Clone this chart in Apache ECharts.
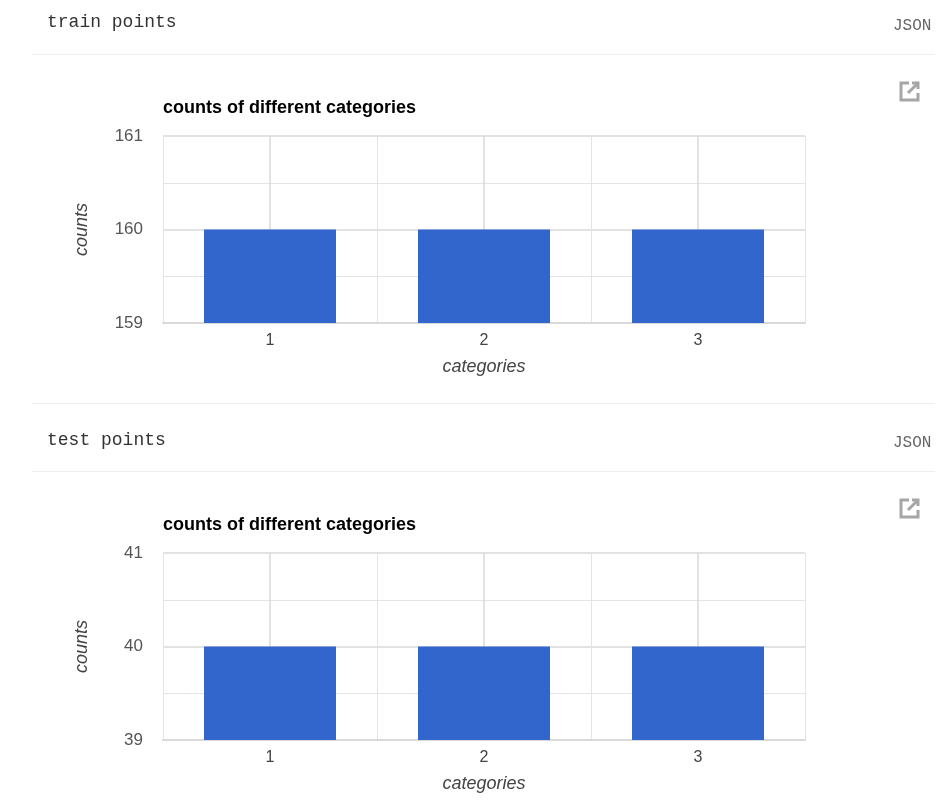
<!DOCTYPE html>
<html>
<head>
<meta charset="utf-8">
<title>train and test points</title>
<script src="https://cdn.jsdelivr.net/npm/echarts@6/dist/echarts.min.js"></script>
<style>
  html, body { margin: 0; padding: 0; background: #fff; }
  #chart { width: 950px; height: 800px; }
</style>
</head>
<body>
<div id="chart"></div>
<script>
var categories = ["1", "2", "3"];
var trainCounts = [160, 160, 160];
var testCounts = [40, 40, 40];
var trainRange = [159, 161];
var testRange = [39, 41];

var chartTitle = "counts of different categories";
var sansFont = '"Liberation Sans", Arial, sans-serif';
var monoFont = '"Liberation Mono", monospace';

var chart = echarts.init(document.getElementById("chart"));

// 两个图共用的坐标轴配置
function makeXAxis(gridIndex, height) {
  return {
    type: "category",
    gridIndex: gridIndex,
    data: categories,
    name: "categories",
    nameLocation: "middle",
    nameGap: 35,
    nameTextStyle: { fontFamily: sansFont, fontStyle: "italic", fontSize: 18, color: "#444" },
    axisLine: { show: true, lineStyle: { color: "#d9d9d9", width: 2 } },
    // 刻度线向上拉满，当作类目中心的深色竖线
    axisTick: { show: true, alignWithLabel: true, inside: true, length: height, lineStyle: { color: "#d9d9d9", width: 1.5 } },
    axisLabel: { fontFamily: sansFont, fontSize: 16, color: "#444", margin: 10 },
    splitLine: { show: true, lineStyle: { color: "#e4e4e4", width: 1 } }
  };
}

function makeYAxis(gridIndex, range) {
  return {
    type: "value",
    gridIndex: gridIndex,
    min: range[0],
    max: range[1],
    interval: 1,
    name: "counts",
    nameLocation: "middle",
    nameGap: 72,
    nameTextStyle: { fontFamily: sansFont, fontStyle: "italic", fontSize: 18, color: "#444" },
    axisLine: { show: false },
    axisTick: { show: false },
    axisLabel: { fontFamily: sansFont, fontSize: 17, color: "#555", margin: 20, padding: [5, 0, 0, 0] },
    splitLine: { show: true, lineStyle: { color: "#d9d9d9", width: 1.5 } },
    minorTick: { show: false, splitNumber: 2 },
    minorSplitLine: { show: true, lineStyle: { color: "#e4e4e4", width: 1 } }
  };
}

function makeBars(axisIndex, values) {
  return {
    type: "bar",
    xAxisIndex: axisIndex,
    yAxisIndex: axisIndex,
    data: values,
    barWidth: 132,
    itemStyle: { color: "#3366cc" }
  };
}

function makeHeader(text, y) {
  return { type: "text", x: 47, y: y, style: { text: text, font: "18px " + monoFont, fill: "#333" } };
}

function makeJson(y) {
  return { type: "text", x: 893, y: y, style: { text: "JSON", font: "16px " + monoFont, fill: "#666" } };
}

function makeRule(y) {
  return { type: "line", shape: { x1: 32, y1: y, x2: 935, y2: y }, style: { stroke: "#eeeeee", lineWidth: 1 } };
}

// 右上角的“打开”小图标
function makeIcon(y) {
  var stroke = { stroke: "#a6a6a6", lineWidth: 3, fill: null };
  return {
    type: "group",
    x: 901,
    y: y,
    children: [
      { type: "polyline", shape: { points: [[8, 0], [0, 0], [0, 17], [17, 17], [17, 10]] }, style: stroke },
      { type: "polyline", shape: { points: [[11, 0], [17, 0], [17, 6]] }, style: stroke },
      { type: "line", shape: { x1: 17, y1: 0, x2: 7, y2: 10 }, style: stroke }
    ]
  };
}

var option = {
  backgroundColor: "#fff",
  animation: false,
  title: [
    { text: chartTitle, left: 158, top: 94, textStyle: { fontFamily: sansFont, fontWeight: "bold", fontSize: 18, color: "#000" } },
    { text: chartTitle, left: 158, top: 511, textStyle: { fontFamily: sansFont, fontWeight: "bold", fontSize: 18, color: "#000" } }
  ],
  grid: [
    { left: 163, top: 136, width: 642, height: 187 },
    { left: 163, top: 553, width: 642, height: 187 }
  ],
  xAxis: [makeXAxis(0, 187), makeXAxis(1, 187)],
  yAxis: [makeYAxis(0, trainRange), makeYAxis(1, testRange)],
  series: [makeBars(0, trainCounts), makeBars(1, testCounts)],
  graphic: [
    makeHeader("train points", 13),
    makeJson(18),
    makeRule(54.5),
    makeIcon(83),
    makeRule(403.5),
    makeHeader("test points", 431),
    makeJson(435),
    makeRule(471.5),
    makeIcon(500)
  ]
};

chart.setOption(option);
</script>
</body>
</html>
